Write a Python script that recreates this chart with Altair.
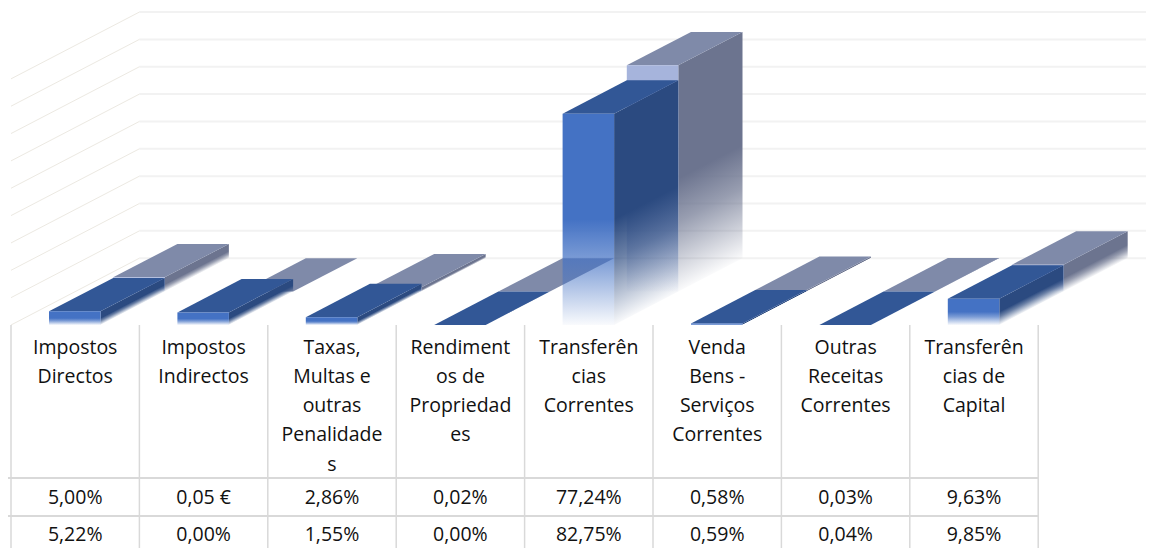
import altair as alt
import pandas as pd

# ---- values (percent) ----
header_lines = [
    ["Impostos", "Directos"],
    ["Impostos", "Indirectos"],
    ["Taxas,", "Multas e", "outras", "Penalidade", "s"],
    ["Rendiment", "os de", "Propriedad", "es"],
    ["Transferên", "cias", "Correntes"],
    ["Venda", "Bens -", "Serviços", "Correntes"],
    ["Outras", "Receitas", "Correntes"],
    ["Transferên", "cias de", "Capital"],
]
row_2020_labels = ["5,00%", "0,05 €", "2,86%", "0,02%", "77,24%", "0,58%", "0,03%", "9,63%"]
row_2021_labels = ["5,22%", "0,00%", "1,55%", "0,00%", "82,75%", "0,59%", "0,04%", "9,85%"]
values_2020 = [5.00, 4.6, 2.86, 0.02, 77.24, 0.58, 0.03, 9.63]
values_2021 = [5.22, 0.00, 1.55, 0.00, 82.75, 0.59, 0.04, 9.85]
grid_values = [0, 10, 20, 30, 40, 50, 60, 70, 80, 90]

# ---- layout constants: category unit and percent unit in pixels ----
PW, PH = 1138, 540
CAT_PX = 128.4
PCT_PX = 2.735
X0_IMG, Y0_IMG = 11, 325
def ux(px): return (px - X0_IMG) / CAT_PX
def uy(px): return (Y0_IMG - px) / PCT_PX

x_scale = alt.Scale(domain=[ux(8), ux(8 + PW)], nice=False, zero=False)
y_scale = alt.Scale(domain=[uy(8 + PH), uy(8)], nice=False, zero=False)
X = lambda f="x": alt.X(f, type="quantitative", scale=x_scale, axis=None)
Y = lambda f="y": alt.Y(f, type="quantitative", scale=y_scale, axis=None)

DX = 0.5               # depth of one series along x, in categories
DY = 33.4 / PCT_PX     # depth of one series along y, in percent
BAR_W = 51.5 / CAT_PX
BAR_LEFT = (49 - X0_IMG) / CAT_PX

FADE = [(0, 1.0), (0.5, 1.0), (0.69, 0.7), (0.83, 0.4), (1, 0.03)]

def rgba(h, a):
    r, g, b = int(h[1:3], 16), int(h[3:5], 16), int(h[5:7], 16)
    return f"rgba({r},{g},{b},{a})"

def front_fill(col):
    return alt.LinearGradient(gradient="linear", x1=0, y1=0, x2=0, y2=1,
        stops=[alt.GradientStop(color=rgba(col, a), offset=f) for f, a in FADE])

def side_fill(col, v):
    s = DY / (v + DY)
    n = 1 + s * s
    return alt.LinearGradient(gradient="linear", x1=0, y1=0, x2=s, y2=1,
        stops=[alt.GradientStop(color=rgba(col, a), offset=min(1, (s + f * (1 - s)) / n)) for f, a in FADE])

def bar_layers(i, v, shift, c_front, c_top, c_side):
    left = i + BAR_LEFT + shift * DX
    base = shift * DY
    top = base + v
    out = []
    if v > 0:
        out.append(alt.Chart(pd.DataFrame({"x": [left + BAR_W, left + BAR_W + DX],
                                           "y": [base, base + DY], "y2": [top, top + DY]}))
                   .mark_area(color=side_fill(c_side, v), opacity=1)
                   .encode(x=X(), y=Y(), y2="y2:Q"))
    out.append(alt.Chart(pd.DataFrame({"y": [top, top + DY], "x": [left, left + DX],
                                       "x2": [left + BAR_W, left + BAR_W + DX]}))
               .mark_area(color=c_top, orient="horizontal", opacity=1)
               .encode(y=Y(), x=X(), x2="x2:Q"))
    if v > 0:
        out.append(alt.Chart(pd.DataFrame({"x": [left, left + BAR_W], "y": [base, base], "y2": [top, top]}))
                   .mark_area(color=front_fill(c_front), opacity=1)
                   .encode(x=X(), y=Y(), y2="y2:Q"))
    return out

layers = []

# back wall and side wall gridlines
g = pd.DataFrame({"y": [v + 2 * DY for v in grid_values]})
g["x"] = 1.0
g["x2"] = ux(8 + PW)
layers.append(alt.Chart(g).mark_rule(color="#F2F2F2", strokeWidth=2)
              .encode(x=X(), x2="x2:Q", y=Y()))
side = pd.DataFrame([{"g": v, "x": p * 1.0, "y": v + (2 * DY if p == 1 else 0)}
                     for v in grid_values for p in (0, 1)])
layers.append(alt.Chart(side).mark_line(color="#ECE9E2", strokeWidth=1)
              .encode(x=X(), y=Y(), detail="g:N"))

# table lines
v_lines = pd.DataFrame({"x": list(range(9))})
v_lines["y"] = uy(325)
v_lines["y2"] = uy(8 + PH)
layers.append(alt.Chart(v_lines).mark_rule(color="#D9D9D9", strokeWidth=1.5)
              .encode(x=X(), y=Y(), y2="y2:Q"))
h_lines = pd.DataFrame({"y": [uy(478), uy(516)]})
h_lines["x"] = ux(8)
h_lines["x2"] = 8
layers.append(alt.Chart(h_lines).mark_rule(color="#D9D9D9", strokeWidth=2)
              .encode(x=X(), x2="x2:Q", y=Y()))

# bars: back series first, then front series
for i, v in enumerate(values_2021):
    layers += bar_layers(i, v, 1, "#A6B4DC", "#7F8AA9", "#6C748F")
for i, v in enumerate(values_2020):
    layers += bar_layers(i, v, 0, "#4472C4", "#325796", "#2B4A80")

# table text
LINE_H = 29.3
rows = []
for i, lines in enumerate(header_lines):
    for j, t in enumerate(lines):
        rows.append({"x": i + 0.5, "y": uy(347.5 + j * LINE_H), "t": t})
for i, t in enumerate(row_2020_labels):
    rows.append({"x": i + 0.5, "y": uy(498), "t": t})
for i, t in enumerate(row_2021_labels):
    rows.append({"x": i + 0.5, "y": uy(535), "t": t})
layers.append(alt.Chart(pd.DataFrame(rows))
              .mark_text(font="Open Sans", fontSize=19.5, color="#111111", align="center", baseline="middle")
              .encode(x=X(), y=Y(), text="t:N"))

chart = (alt.layer(*layers)
         .properties(width=PW, height=PH, padding=0, background="white",
                     autosize=alt.AutoSizeParams(type="none"))
         .configure_view(stroke=None))

chart.save("out.html", embed_options={"renderer": "svg", "actions": False})
